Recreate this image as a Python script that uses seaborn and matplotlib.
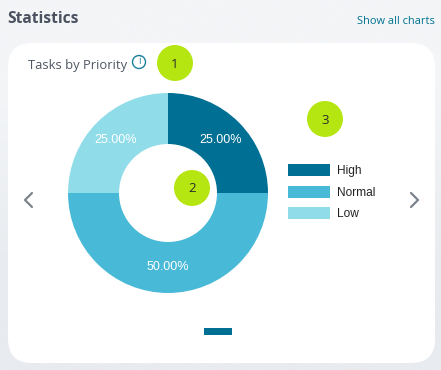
import numpy as np
import seaborn as sns
import matplotlib.pyplot as plt
from matplotlib.colors import to_rgb
from matplotlib.patches import Circle, FancyBboxPatch, Rectangle

# ---------------- DATA ----------------
priorities = ["High", "Normal", "Low"]
shares = [25, 50, 25]
priority_colors = ["#006f94", "#48b9d6", "#90dde9"]
badge_labels = ["1", "2", "3"]
badge_x = [175, 192, 325]
badge_y = [63, 188, 119]

UI_FONT = ["Open Sans", "DejaVu Sans"]
CHART_FONT = ["Liberation Sans", "DejaVu Sans"]
W, H = 441, 370

# ---------------- FIGURE ----------------
sns.set_style("white")
plt.rcParams["font.family"] = UI_FONT

fig = plt.figure(figsize=(W / 100, H / 100), dpi=100)

# pixel-sized backdrop axes, y pointing down
ax = fig.add_axes([0, 0, 1, 1])
bg = np.array([[to_rgb("#f3f5f7")], [to_rgb("#e8ebef")]])
ax.imshow(bg, extent=(0, W, H, 0), aspect="auto", interpolation="bilinear", zorder=0)
ax.set_xlim(0, W)
ax.set_ylim(H, 0)
ax.axis("off")

# card
ax.add_patch(FancyBboxPatch((8 + 24, 43 + 24), 427 - 48, 320 - 48,
                            boxstyle="round,pad=24,rounding_size=24",
                            fc="white", ec="none", zorder=1))

# headings
ax.text(7, 19, "Statistics", fontsize=11.2, fontweight="bold", color="#4a5260",
        va="center", ha="left")
ax.text(435, 21, "Show all charts", fontsize=7.9, color="#00708f",
        va="center", ha="right")
ax.text(28, 65, "Tasks by Priority", fontsize=9.35, color="#4f5763",
        va="center", ha="left")

# info icon
ax.add_patch(Circle((139, 62), 6.5, fc="none", ec="#1b7f9e", lw=1, zorder=3))
ax.text(139, 62, "i", fontsize=7, color="#1b7f9e", va="center", ha="center", zorder=4)

# chevrons
ax.plot([32, 25, 32], [193, 200, 207], color="#7d838b", lw=1.6, zorder=3)
ax.plot([411, 418, 411], [193, 200, 207], color="#7d838b", lw=1.6, zorder=3)

# carousel indicator
ax.add_patch(Rectangle((204, 328), 28, 7, fc=priority_colors[0], ec="none", zorder=3))

# ---------------- DONUT ----------------
ax_pie = fig.add_axes([68 / W, (H - 293) / H, 200 / W, 200 / H])
ax_pie.patch.set_alpha(0)
wedges, _, autotexts = ax_pie.pie(
    shares,
    colors=sns.color_palette(priority_colors),
    startangle=90,
    counterclock=False,
    radius=1,
    autopct="%.2f%%",
    pctdistance=0.745,
    wedgeprops={"width": 0.51, "linewidth": 0},
    textprops={"color": "white", "fontsize": 9, "family": CHART_FONT},
)
ax_pie.set_xlim(-1, 1)
ax_pie.set_ylim(-1, 1)

# ---------------- LEGEND ----------------
fig.legend(
    wedges,
    priorities,
    loc="upper left",
    bbox_to_anchor=(288 / W, (H - 164) / H),
    borderaxespad=0,
    borderpad=0,
    frameon=False,
    handlelength=3.5,
    handleheight=1.2,
    handletextpad=0.6,
    labelspacing=0.7,
    prop={"family": CHART_FONT, "size": 8.6},
    labelcolor="#222222",
)

# ---------------- BADGES ----------------
ax_top = fig.add_axes([0, 0, 1, 1])
ax_top.set_xlim(0, W)
ax_top.set_ylim(H, 0)
ax_top.axis("off")
for label, x, y in zip(badge_labels, badge_x, badge_y):
    ax_top.add_patch(Circle((x, y), 18, fc="#b5e612", ec="none"))
    ax_top.text(x, y + 1, label, fontsize=9.5, color="#2a2a2a", va="center", ha="center")

fig.savefig("out.png", dpi=100)
